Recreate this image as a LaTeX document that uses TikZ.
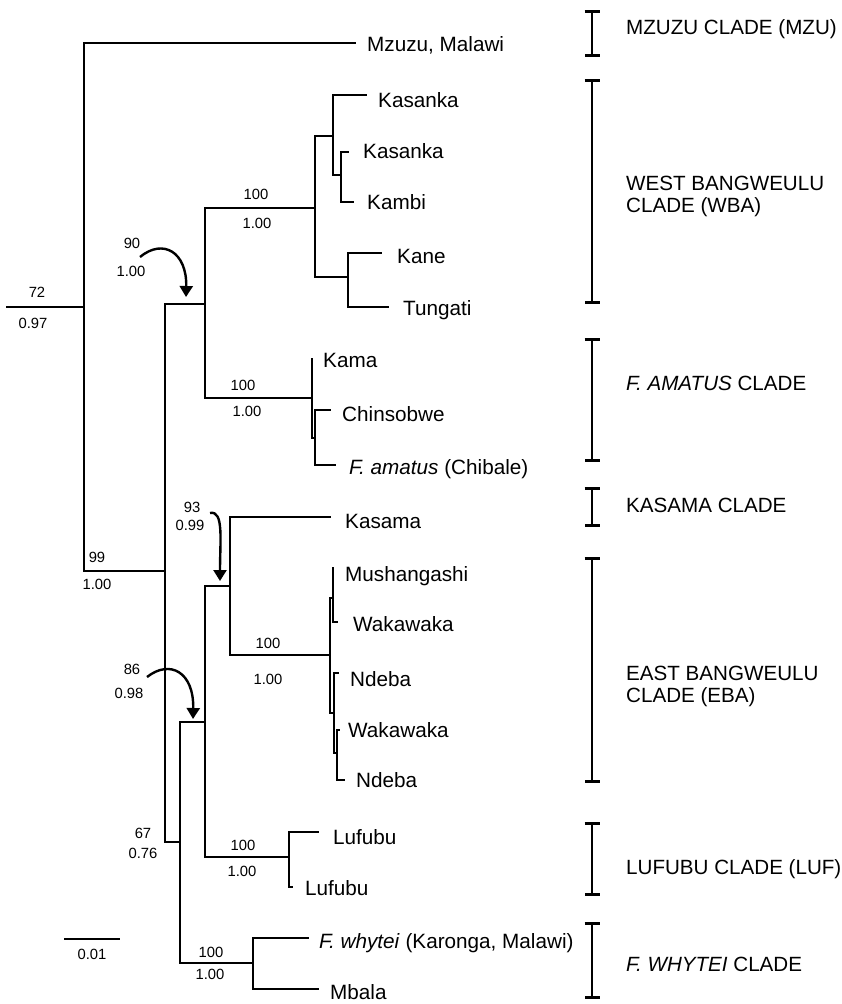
\documentclass[tikz,border=0pt]{standalone}
\usepackage{fontspec}
\setmainfont{Liberation Sans}
\usetikzlibrary{arrows.meta}
\begin{document}
\begin{tikzpicture}[x=1pt,y=-1pt,
  br/.style={line width=2.9pt, line cap=rect},
  tax/.style={anchor=base west, inner sep=0pt, font=\fontsize{20.7}{22}\selectfont},
  sup/.style={inner sep=0pt, font=\fontsize{14.8}{16}\selectfont},
  cl/.style={anchor=base west, inner sep=0pt, font=\fontsize{20.6}{22}\selectfont},
  cbar/.style={line width=2.7pt, {Bar[width=15pt]}-{Bar[width=15pt]}},
  curv/.style={line width=2.4pt, -{Triangle[width=13pt,length=11pt]}}]
\useasboundingbox (0,0) rectangle (842,1004);

% ---- tree coordinates ----
\coordinate (root0) at (7,307);
\coordinate (R) at (84,307);
\coordinate (mzu) at (355,43);
\coordinate (N99) at (165,571);
\coordinate (N90) at (205,304);
\coordinate (NWBA) at (315,208);
\coordinate (Nk) at (333,136);
\coordinate (kas1) at (366,95);
\coordinate (Nkk) at (341,175);
\coordinate (kas2) at (348,152);
\coordinate (kambi) at (353,202);
\coordinate (Nkt) at (348,277);
\coordinate (kane) at (381,253);
\coordinate (tung) at (388,307);
\coordinate (NAM) at (312,398);
\coordinate (kama) at (312,359);
\coordinate (Ncf) at (315,438);
\coordinate (chin) at (330,410);
\coordinate (fam) at (335,465);
\coordinate (N67) at (180,842);
\coordinate (N86) at (205,722);
\coordinate (N93) at (230,586);
\coordinate (kasama) at (330,517);
\coordinate (NEBA) at (330,655);
\coordinate (Nmw) at (333,598);
\coordinate (mush) at (333,568);
\coordinate (waka1) at (337,622);
\coordinate (Nnd) at (334,713);
\coordinate (nde1) at (338,673);
\coordinate (N2) at (337,753);
\coordinate (waka2) at (339,730);
\coordinate (nde2) at (344,780);
\coordinate (Nluf) at (289,857);
\coordinate (luf1) at (318,832);
\coordinate (luf2) at (292,887);
\coordinate (Nwh) at (253,963);
\coordinate (wh) at (308,938);
\coordinate (mb) at (318,989);

% ---- branches ----
\draw[br] (root0) -- (R);
\draw[br] (R) |- (mzu);
\draw[br] (R) |- (N99);
\draw[br] (N99) |- (N90);
\draw[br] (N99) |- (N67);
\draw[br] (N90) |- (NWBA);
\draw[br] (N90) |- (NAM);
\draw[br] (NWBA) |- (Nk);
\draw[br] (NWBA) |- (Nkt);
\draw[br] (Nk) |- (kas1);
\draw[br] (Nk) |- (Nkk);
\draw[br] (Nkk) |- (kas2);
\draw[br] (Nkk) |- (kambi);
\draw[br] (Nkt) |- (kane);
\draw[br] (Nkt) |- (tung);
\draw[br] (NAM) |- (kama);
\draw[br] (NAM) |- (Ncf);
\draw[br] (Ncf) |- (chin);
\draw[br] (Ncf) |- (fam);
\draw[br] (N67) |- (N86);
\draw[br] (N67) |- (Nwh);
\draw[br] (N86) |- (N93);
\draw[br] (N86) |- (Nluf);
\draw[br] (N93) |- (kasama);
\draw[br] (N93) |- (NEBA);
\draw[br] (NEBA) |- (Nmw);
\draw[br] (NEBA) |- (Nnd);
\draw[br] (Nmw) |- (mush);
\draw[br] (Nmw) |- (waka1);
\draw[br] (Nnd) |- (nde1);
\draw[br] (Nnd) |- (N2);
\draw[br] (N2) |- (waka2);
\draw[br] (N2) |- (nde2);
\draw[br] (Nluf) |- (luf1);
\draw[br] (Nluf) |- (luf2);
\draw[br] (Nwh) |- (wh);
\draw[br] (Nwh) |- (mb);

% ---- taxon labels ----
\node[tax] (tmzu) at (367,51.4) {Mzuzu, Malawi};
\node[tax] (tkas1) at (378,107.4) {Kasanka};
\node[tax] (tkas2) at (363,158.4) {Kasanka};
\node[tax] (tkambi) at (367,209.4) {Kambi};
\node[tax] (tkane) at (397,263.4) {Kane};
\node[tax] (ttung) at (403,315.4) {Tungati};
\node[tax] (tkama) at (323,367.4) {Kama};
\node[tax] (tchin) at (342,421.4) {Chinsobwe};
\node[tax] (tfam) at (349,474.4) {\textit{F. amatus} (Chibale)};
\node[tax] (tkasama) at (345,528.4) {Kasama};
\node[tax] (tmush) at (345,581.4) {Mushangashi};
\node[tax] (twaka1) at (353,631.4) {Wakawaka};
\node[tax] (tnde1) at (350,686.4) {Ndeba};
\node[tax] (twaka2) at (348,737.4) {Wakawaka};
\node[tax] (tnde2) at (356,787.4) {Ndeba};
\node[tax] (tluf1) at (333,844.4) {Lufubu};
\node[tax] (tluf2) at (305,895.4) {Lufubu};
\node[tax] (twh) at (319,948.4) {\textit{F. whytei} (Karonga, Malawi)};
\node[tax] (tmb) at (330,999) {Mbala};

% ---- support values ----
\node[sup] (s72) at (37,292) {72};
\node[sup] (p72) at (33,323) {0.97};
\node[sup] (s90) at (132,243) {90};
\node[sup] (p90) at (131,271) {1.00};
\node[sup] (sWBA) at (256,194) {100};
\node[sup] (pWBA) at (257,223) {1.00};
\node[sup] (sAM) at (243,385) {100};
\node[sup] (pAM) at (247,411) {1.00};
\node[sup] (s99) at (97,557) {99};
\node[sup] (p99) at (97,584) {1.00};
\node[sup] (s93) at (192,507) {93};
\node[sup] (p93) at (190,525) {0.99};
\node[sup] (sEBA) at (268,643) {100};
\node[sup] (pEBA) at (268,679) {1.00};
\node[sup] (s86) at (132,669) {86};
\node[sup] (p86) at (129,693) {0.98};
\node[sup] (s67) at (143,833) {67};
\node[sup] (p67) at (143,853) {0.76};
\node[sup] (sLUF) at (243,845) {100};
\node[sup] (pLUF) at (242,871) {1.00};
\node[sup] (sWH) at (211,952) {100};
\node[sup] (pWH) at (210,974) {1.00};

% ---- curved pointers ----
\coordinate (a90s) at (140,257);
\coordinate (a90e) at (186,297);
\draw[curv] (a90s) .. controls (163,238) and (187,252) .. (a90e);
\coordinate (a93s) at (210,513);
\coordinate (a93e) at (220,581);
\draw[curv] (a93s) .. controls (224,510) and (220,540) .. (a93e);
\coordinate (a86s) at (147,677);
\coordinate (a86e) at (193,719);
\draw[curv] (a86s) .. controls (170,659) and (194,672) .. (a86e);

% ---- scale bar ----
\coordinate (sb1) at (64,939);
\coordinate (sb2) at (120,939);
\draw[br, line cap=butt] (sb1) -- (sb2);
\node[sup] (sbl) at (92,954) {0.01};

% ---- clade bars ----
\coordinate (bMZUt) at (592,10);  \coordinate (bMZUb) at (592,57);
\coordinate (bWBAt) at (592,79);  \coordinate (bWBAb) at (592,304);
\coordinate (bAMt) at (592,338);  \coordinate (bAMb) at (592,462);
\coordinate (bKASt) at (592,487); \coordinate (bKASb) at (592,527);
\coordinate (bEBAt) at (592,557); \coordinate (bEBAb) at (592,783);
\coordinate (bLUFt) at (592,822); \coordinate (bLUFb) at (592,896);
\coordinate (bWHt) at (592,922);  \coordinate (bWHb) at (592,999);
\draw[cbar] (bMZUt) -- (bMZUb);
\draw[cbar] (bWBAt) -- (bWBAb);
\draw[cbar] (bAMt) -- (bAMb);
\draw[cbar] (bKASt) -- (bKASb);
\draw[cbar] (bEBAt) -- (bEBAb);
\draw[cbar] (bLUFt) -- (bLUFb);
\draw[cbar] (bWHt) -- (bWHb);

% ---- clade labels ----
\node[cl] (cMZU) at (626,34.4) {MZUZU CLADE (MZU)};
\node[cl] (cWBA1) at (626,190.4) {WEST BANGWEULU};
\node[cl] (cWBA2) at (626,212.4) {CLADE (WBA)};
\node[cl] (cAM) at (626,390.4) {\textit{F. AMATUS} CLADE};
\node[cl] (cKAS) at (626,512.4) {KASAMA CLADE};
\node[cl] (cEBA1) at (626,680.4) {EAST BANGWEULU};
\node[cl] (cEBA2) at (626,702.4) {CLADE (EBA)};
\node[cl] (cLUF) at (626,874.4) {LUFUBU CLADE (LUF)};
\node[cl] (cWH) at (626,971.4) {\textit{F. WHYTEI} CLADE};
\end{tikzpicture}
\end{document}
